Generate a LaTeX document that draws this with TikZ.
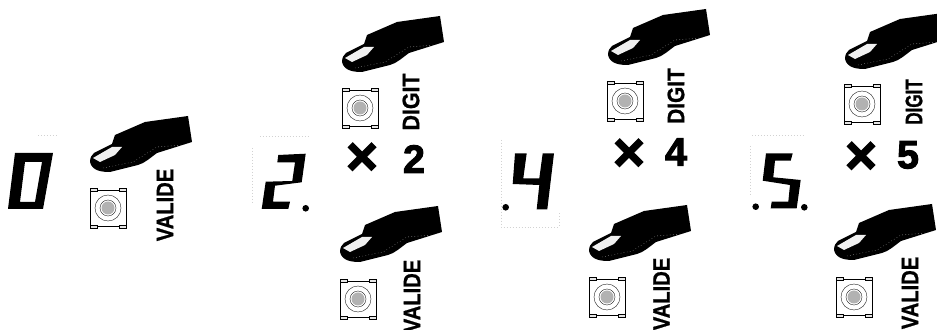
\documentclass[tikz,border=0pt]{standalone}
\usepackage{fontspec}
\setmainfont{Liberation Sans}
\newfontface\heavyface[FakeBold=2.5]{Liberation Sans Bold}
\newfontface\keyface[FakeBold=1]{Liberation Sans Bold}
\tikzset{
  keylabel/.style  = {rotate=90,font=\fontsize{13.5}{13.5}\keyface,inner sep=0pt},
  bigsign/.style   = {font=\fontsize{31}{31}\heavyface,inner sep=0pt},
  bignum/.style    = {font=\fontsize{22.5}{22.5}\heavyface,inner sep=0pt},
  faintline/.style = {gray!35,dash pattern=on 0.5pt off 1.2pt,very thin}
}
\newcommand{\fingerat}[2]{%
  \begin{scope}[shift={(#1,#2)}]
    \fill[black] (0,46) .. controls (0,41) and (2,39) .. (4,37) -- (22,28) -- (25,19) -- (55,6)
      -- (98,0) -- (102,26) -- (67,37) .. controls (60,42) and (55,47) .. (48,49)
      -- (20,56) .. controls (12,56) and (2,55) .. (0,46) -- cycle;
    \fill[gray!12] (3,42) -- (22,31) -- (32,31) -- (25,39) -- (10,46) -- cycle;
    \draw[gray!70,dash pattern=on 0.4pt off 1.4pt,very thin] (13,52) -- (43,46) -- (67,31) -- (93,29);
  \end{scope}
}
\newcommand{\buttonat}[2]{%
  \begin{scope}[shift={(#1,#2)}]
    \draw[very thin] (-18,-18) rectangle (18,18);
    \foreach \tabx in {-18,11}
      \foreach \taby in {-20,17}
        \draw[ultra thin,fill=gray!20] (\tabx,\taby) rectangle ++(7,3);
    \draw[very thin] (0,0) circle (13);
    \draw[very thin] (0,0) circle (8);
    \fill[gray!60] (0,0) circle (6.5);
  \end{scope}
}
\begin{document}
\begin{tikzpicture}[x=0.02cm,y=-0.02cm]
  \clip (0,0) rectangle (937,330);
  % faint frames of the displays
  \draw[faintline] (38,135) -- (57,135);
  \draw[faintline] (260,136) -- (308,136) (252,148) -- (252,202);
  \draw[faintline] (501,140) -- (501,227) -- (559,227) -- (559,213);
  \draw[faintline] (752,135) -- (804,135) (750,146) -- (750,196);
  % displays
  \fill[even odd rule] (15,153) -- (53,153) -- (43,209) -- (8,209) -- cycle
    (25,162) -- (42,162) -- (35,202) -- (20,202) -- cycle;
  \fill (278.3,155) -- (305.7,153.7) -- (301.7,182.3) -- (275,185.7) -- (273,201.7) -- (290,201.7)
    -- (288.3,209) -- (261.7,209) -- (265.7,181.7) -- (292.3,181) -- (295,162.3) -- (277.3,162.3) -- cycle;
  \fill (305.7,208.3) circle (3.3);
  \fill (515,153.3) -- (526.7,153.3) -- (523.3,178.3) -- (539.3,178.3) -- (542.7,153.3) -- (554,153.3)
    -- (547.3,209.3) -- (536.7,209.3) -- (539.3,185) -- (512.7,184) -- cycle;
  \fill (505.7,207.3) circle (3.3);
  \fill (766,153.3) -- (792.7,153.3) -- (790.7,160.7) -- (775,160.7) -- (773.3,177.3) -- (800.7,180)
    -- (796.7,208.3) -- (770.7,208.3) -- (771.7,201.7) -- (788.3,201.7) -- (790,185) -- (762.7,180.7) -- cycle;
  \fill (755.7,206.7) circle (3.3);
  \fill (804.3,207.3) circle (3.3);
  % fingers and buttons
  \fingerat{90}{116}   \buttonat{108}{208}
  \fingerat{342}{16}   \buttonat{360}{108}
  \fingerat{340}{206}  \buttonat{358}{299}
  \fingerat{608}{9}    \buttonat{625}{101}
  \fingerat{589}{205}  \buttonat{607}{297}
  \fingerat{845}{13}   \buttonat{862}{104}
  \fingerat{834}{204}  \buttonat{854}{297}
  % labels
  \node[keylabel,xscale=0.85] (valA) at (165,205) {VALIDE};
  \node[keylabel,xscale=0.90] (digB) at (411,102) {DIGIT};
  \node[keylabel,xscale=0.85] (valB) at (412,296) {VALIDE};
  \node[keylabel,xscale=0.88] (digC) at (676,96)  {DIGIT};
  \node[keylabel,xscale=0.85] (valC) at (661.5,294) {VALIDE};
  \node[keylabel,xscale=0.72] (digD) at (914,102) {DIGIT};
  \node[keylabel,xscale=0.85] (valD) at (910,293) {VALIDE};
  \node[bigsign] (timesB) at (362,159) {×};
  \node[bignum]  (numB)   at (414,159) {2};
  \node[bigsign] (timesC) at (629,155) {×};
  \node[bignum]  (numC)   at (676,152) {4};
  \node[bigsign] (timesD) at (861,158) {×};
  \node[bignum]  (numD)   at (908,155) {5};
\end{tikzpicture}
\end{document}
